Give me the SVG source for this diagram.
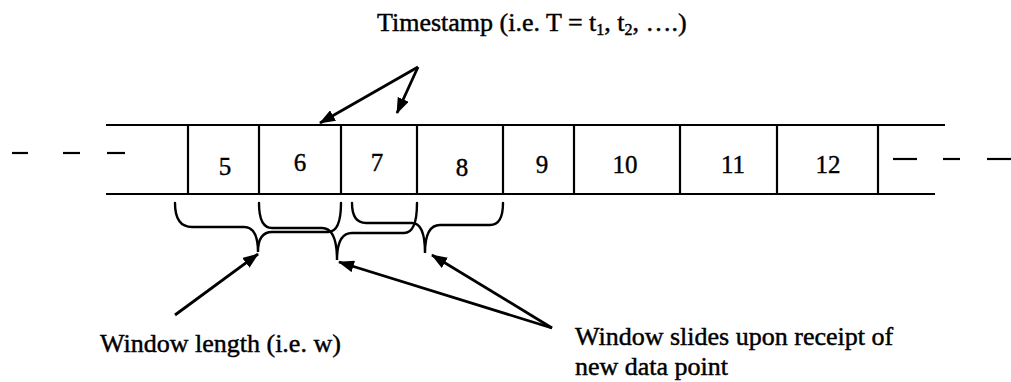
<svg xmlns="http://www.w3.org/2000/svg" width="1011" height="382" viewBox="0 0 1011 382">
  <style>
    .ln { stroke: #000; stroke-width: 2.2; fill: none; }
    .br { stroke: #000; stroke-width: 2.4; fill: none; stroke-linecap: round; }
    .ar { stroke: #000; stroke-width: 2.8; fill: none; marker-end: url(#head); }
    .num { font-family: "Liberation Serif", "Times New Roman", serif; font-size: 25px; fill: #000; stroke: #000; stroke-width: 0.4; text-anchor: middle; }
    .lbl { font-family: "Liberation Serif", "Times New Roman", serif; font-size: 26px; fill: #000; stroke: #000; stroke-width: 0.45; }
  </style>
  <defs>
    <marker id="head" viewBox="0 0 16 12" refX="15" refY="6" markerWidth="16" markerHeight="12" markerUnits="userSpaceOnUse" orient="auto">
      <path d="M0,0 L16,6 L0,12 Z" fill="#000"/>
    </marker>
  </defs>
  <rect width="1011" height="382" fill="#fff"/>

  <!-- data stream strip -->
  <g id="strip">
    <line class="ln" x1="106" y1="125" x2="945" y2="125"/>
    <line class="ln" x1="106" y1="194" x2="935" y2="194"/>
    <line class="ln" x1="12" y1="153" x2="28" y2="153"/>
    <line class="ln" x1="63" y1="153" x2="80" y2="153"/>
    <line class="ln" x1="107" y1="153" x2="125" y2="153"/>
    <line class="ln" x1="893" y1="159" x2="917" y2="159"/>
    <line class="ln" x1="943" y1="159" x2="960" y2="159"/>
    <line class="ln" x1="987" y1="159" x2="1011" y2="159"/>
  </g>

  <g id="cell-5"><line class="ln" x1="188" y1="125" x2="188" y2="194"/><text class="num" x="225" y="175">5</text></g>
  <g id="cell-6"><line class="ln" x1="259" y1="125" x2="259" y2="194"/><text class="num" x="300" y="171">6</text></g>
  <g id="cell-7"><line class="ln" x1="341" y1="125" x2="341" y2="194"/><text class="num" x="377" y="171">7</text></g>
  <g id="cell-8"><line class="ln" x1="417" y1="125" x2="417" y2="194"/><text class="num" x="462" y="176">8</text></g>
  <g id="cell-9"><line class="ln" x1="503" y1="125" x2="503" y2="194"/><text class="num" x="542" y="173">9</text></g>
  <g id="cell-10"><line class="ln" x1="574" y1="125" x2="574" y2="194"/><text class="num" x="625" y="173">10</text></g>
  <g id="cell-11"><line class="ln" x1="680" y1="125" x2="680" y2="194"/><text class="num" x="733" y="173">11</text></g>
  <g id="cell-12"><line class="ln" x1="777" y1="125" x2="777" y2="194"/><text class="num" x="828" y="173">12</text><line class="ln" x1="878" y1="125" x2="878" y2="194"/></g>

  <!-- overlapping window braces -->
  <g id="window-braces">
    <path class="br" d="M175,203 Q175,227 192,227 L244,227 Q258,227 258,252 Q258,232 272,232 L328,232 Q341,232 341,203"/>
    <path class="br" d="M259,203 Q259,228 272,228 L322,228 Q337,228 337,260 Q337,233 352,233 L404,233 Q417,233 417,203"/>
    <path class="br" d="M352,203 Q352,223 366,223 L412,223 Q425,223 425,253 Q425,225 440,225 L490,225 Q503,225 503,203"/>
  </g>

  <g id="label-timestamp">
    <text class="lbl" x="377" y="31" font-size="24.5">Timestamp (i.e. T = t<tspan font-size="16" dy="4">1</tspan><tspan dy="-4">, t</tspan><tspan font-size="16" dy="4">2</tspan><tspan dy="-4">, ….)</tspan></text>
  </g>
  <g id="label-window-length">
    <text class="lbl" x="100" y="352">Window length (i.e. w)</text>
  </g>
  <g id="label-window-slides">
    <text class="lbl" x="575" y="345">Window slides upon receipt of</text>
    <text class="lbl" x="575" y="375">new data point</text>
  </g>

  <!-- connectors -->
  <g id="connectors">
    <line class="ar" x1="418" y1="67" x2="320" y2="123"/>
    <line class="ar" x1="418" y1="67" x2="397" y2="113"/>
    <line class="ar" x1="175" y1="315" x2="258" y2="254"/>
    <line class="ar" x1="552" y1="328" x2="339" y2="262"/>
    <line class="ar" x1="552" y1="328" x2="432" y2="255"/>
  </g>
</svg>
